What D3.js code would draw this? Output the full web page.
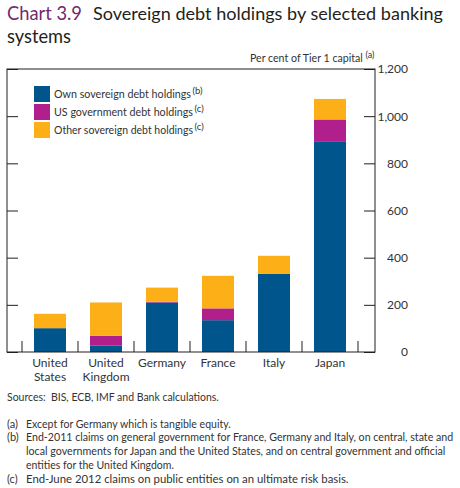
<!DOCTYPE html>
<html>
<head>
<meta charset="utf-8">
<script src="https://cdn.jsdelivr.net/npm/d3@7"></script>
<style>
  html, body { margin: 0; padding: 0; background: #fff; }
  svg { display: block; font-family: Lato, "Open Sans", sans-serif; }
</style>
</head>
<body>
<svg id="chart" width="460" height="488"></svg>
<script>
// ---- Data ----
const categories = ["United States", "United Kingdom", "Germany", "France", "Italy", "Japan"];
const categoryLines = [["United", "States"], ["United", "Kingdom"], ["Germany"], ["France"], ["Italy"], ["Japan"]];
const ownSovereign = [101, 28, 210, 135, 331, 891];
const usGovernment = [0, 41, 3, 50, 0, 95];
const otherSovereign = [61, 141, 60, 138, 77, 87];
const seriesNames = ["Own sovereign debt holdings", "US government debt holdings", "Other sovereign debt holdings"];
const seriesNotes = ["(b)", "(c)", "(c)"];
const yTicks = [0, 200, 400, 600, 800, 1000, 1200];
const footnotes = [
  ["(a)", "Except for Germany which is tangible equity."],
  ["(b)", "End-2011 claims on general government for France, Germany and Italy, on central, state and"],
  ["", "local governments for Japan and the United States, and on central government and official"],
  ["", "entities for the United Kingdom."],
  ["(c)", "End-June 2012 claims on public entities on an ultimate risk basis."]
];

// ---- Styles ----
const colors = ["#00558c", "#b01f8c", "#fcaf17"];
const keys = ["own", "us", "other"];
const textColor = "#231f20";
const smallText = "#333";

const svg = d3.select("#chart");

// Fit a text to a target width by adjusting its font size.
function fit(sel, w, size) {
  const L = sel.node().getComputedTextLength();
  if (Math.abs(L - w) > 0.5) sel.attr("font-size", size * w / L);
  return sel;
}
function label(xp, yp, size, txt, w, fill) {
  const t = svg.append("text").attr("x", xp).attr("y", yp).attr("font-size", size)
    .attr("fill", fill || smallText).text(txt);
  if (w) fit(t, w, size);
  return t;
}

// ---- Title ----
label(7, 20, 19, "Chart 3.9", 75, "#742a6c");
label(93, 20, 19, "Sovereign debt holdings by selected banking", 350, textColor);
label(7, 43, 19, "systems", 64, textColor);

// ---- Scales ----
const plotL = 7, plotR = 375, plotT = 69, plotB = 352;
const pad = 24 / 56;
const x = d3.scaleBand().domain(categories).range([22, 358]).paddingInner(pad).paddingOuter(pad / 2);
const y = d3.scaleLinear().domain([0, 1200]).range([plotB, plotT]);

// ---- Stacked bars ----
const table = categories.map((c, i) => ({ cat: c, own: ownSovereign[i], us: usGovernment[i], other: otherSovereign[i] }));
const stacked = d3.stack().keys(keys)(table);

svg.append("g").selectAll("g").data(stacked).join("g")
  .attr("fill", (d, i) => colors[i])
  .selectAll("rect").data(d => d).join("rect")
  .attr("x", d => x(d.data.cat))
  .attr("width", x.bandwidth())
  .attr("y", d => y(d[1]))
  .attr("height", d => y(d[0]) - y(d[1]));

// ---- Axes ----
const axisColor = "#231f20";
const rAxis = svg.append("g").attr("transform", `translate(${plotR},0)`)
  .call(d3.axisRight(y).tickValues(yTicks).tickSize(-11).tickPadding(33).tickFormat(d3.format(",")));
rAxis.select(".domain").remove();
rAxis.selectAll("line").attr("stroke", axisColor);
rAxis.selectAll("text").attr("text-anchor", "end").attr("font-size", 12).attr("fill", smallText)
  .attr("font-family", "Lato, 'Open Sans', sans-serif");
const lAxis = svg.append("g").attr("transform", `translate(${plotL},0)`)
  .call(d3.axisLeft(y).tickValues(yTicks).tickSize(-11).tickFormat(""));
lAxis.select(".domain").remove();
lAxis.selectAll("line").attr("stroke", axisColor);
const sepPositions = categories.map(c => x(c) - x.step() * pad / 2)
  .concat([x(categories[categories.length - 1]) + x.bandwidth() + x.step() * pad / 2]);
svg.append("g").selectAll("line").data(sepPositions).join("line")
  .attr("x1", d => d).attr("x2", d => d)
  .attr("y1", plotB).attr("y2", plotB - 11)
  .attr("stroke", axisColor);
svg.append("rect").attr("x", plotL).attr("y", plotT).attr("width", plotR - plotL).attr("height", plotB - plotT)
  .attr("fill", "none").attr("stroke", axisColor).attr("stroke-width", 1);

// category labels
categories.forEach((c, i) => {
  categoryLines[i].forEach((line, j) => {
    svg.append("text").attr("x", x(c) + x.bandwidth() / 2).attr("y", 367 + j * 14)
      .attr("text-anchor", "middle").attr("font-size", 12).attr("fill", smallText).text(line);
  });
});

// units label
label(250, 62, 11.5, "Per cent of Tier 1 capital", 113);
label(365.5, 57.5, 9, "(a)");

// ---- Legend ----
const legendW = [137, 139, 139];
seriesNames.forEach((name, i) => {
  svg.append("rect").attr("x", 34).attr("y", 86 + i * 18).attr("width", 16).attr("height", 16).attr("fill", colors[i]);
  label(54, 98 + i * 18, 12, name, legendW[i]);
  label(54 + legendW[i] + 1.5, 93.5 + i * 18, 9.5, seriesNotes[i]);
});

// ---- Sources & footnotes ----
label(7, 401, 11, "Sources:\u00a0\u00a0BIS, ECB, IMF and Bank calculations.", 212);

const noteWidths = [205, 428, 420, 148, 323];
footnotes.forEach((f, i) => {
  const yy = 427.5 + i * 13.8;
  if (f[0]) label(7, yy, 11, f[0]);
  label(26, yy, 11, f[1], noteWidths[i]);
});
</script>
</body>
</html>
